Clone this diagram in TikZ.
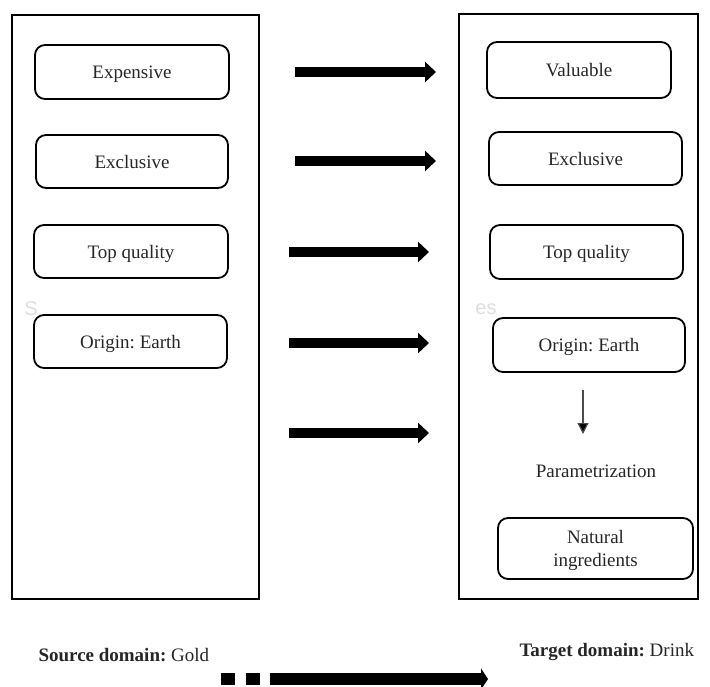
\documentclass[tikz,border=0pt]{standalone}
\usepackage{fontspec}
\setmainfont{Liberation Serif}
\newfontfamily\marksans{Liberation Sans}
\usetikzlibrary{arrows.meta}
\frenchspacing
\begin{document}
\begin{tikzpicture}[x=1pt,y=-1pt,
  domainframe/.style={draw, line width=1.5pt, inner sep=0pt},
  box/.style={draw, line width=1.8pt, rounded corners=10pt, inner sep=0pt,
    align=center, font=\fontsize{19}{23}\selectfont, text=black!85},
  item/.style={box, text height=14pt, text depth=0pt},
  maplink/.style={line width=10pt, -{Triangle[length=11pt,width=20pt]}},
  label/.style={font=\fontsize{19}{23}\selectfont, text=black!85},
  ghost/.style={font=\marksans\fontsize{20}{24}\selectfont, text=black!13}]
\useasboundingbox (0,0) rectangle (710,687);

% domain frames
\node[domainframe, minimum width=247pt, minimum height=584pt] (lbox) at (135.5,307) {};
\node[domainframe, minimum width=239pt, minimum height=585pt] (rbox) at (578.5,306.5) {};

% faint marks
\node[ghost] (gs) at (31,309) {S};
\node[ghost] (ges) at (486,309) {es};

% source attributes
\node[item, minimum width=194pt, minimum height=54pt] (src1) at (132,72) {Expensive};
\node[item, minimum width=192pt, minimum height=53pt] (src2) at (132,161.5) {Exclusive};
\node[item, minimum width=194pt, minimum height=53pt] (src3) at (131,251.5) {Top quality};
\node[item, minimum width=193pt, minimum height=53pt] (src4) at (130.5,341.5) {Origin: Earth};

% target attributes
\node[item, minimum width=184pt, minimum height=56pt] (tgt1) at (579,70) {Valuable};
\node[item, minimum width=193pt, minimum height=53pt] (tgt2) at (585.5,158.5) {Exclusive};
\node[item, minimum width=193pt, minimum height=54pt] (tgt3) at (586.5,252) {Top quality};
\node[item, minimum width=192pt, minimum height=54pt] (tgt4) at (589,345) {Origin: Earth};
\node[label] (param) at (596,471) {Parametrization};
\node[box, text depth=0pt, minimum width=195pt, minimum height=61pt] (tgt5) at (595.5,548.5) {Natural\\ingredients};

% mapping arrows
\coordinate (a1s) at (295,72);  \coordinate (a1e) at (436,72);
\coordinate (a2s) at (295,161); \coordinate (a2e) at (436,161);
\coordinate (a3s) at (289,252); \coordinate (a3e) at (429,252);
\coordinate (a4s) at (289,343); \coordinate (a4e) at (429,343);
\coordinate (a5s) at (289,433); \coordinate (a5e) at (429,433);
\foreach \i in {1,...,5} {\draw[maplink] (a\i s) -- (a\i e);}

% parametrization step
\coordinate (ps) at (583,390);
\coordinate (pe) at (583,434);
\draw[line width=1.2pt, draw=black!70, -{Triangle[length=11pt,width=11pt,fill=black]}] (ps) -- (pe);

% domain captions
\node[label, anchor=west] (srcdom) at (35,655) {\textbf{Source domain:} Gold};
\node[label, anchor=west] (tgtdom) at (516,652) {\textbf{Target domain:} Drink};

% direction arrow
\node[fill, minimum width=14pt, minimum height=12pt, inner sep=0pt] (d1) at (228,679) {};
\node[fill, minimum width=14pt, minimum height=12pt, inner sep=0pt] (d2) at (253,679) {};
\coordinate (ds) at (270,679);
\coordinate (de) at (488,679);
\draw[line width=12pt, -{Triangle[length=7pt,width=21pt]}] (ds) -- (de);
\end{tikzpicture}
\end{document}
